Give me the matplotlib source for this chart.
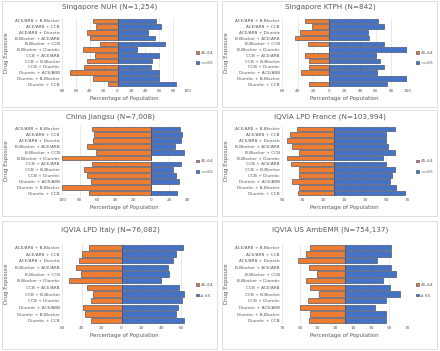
import matplotlib
matplotlib.use("Agg")
import matplotlib.pyplot as plt
from matplotlib.patches import Rectangle
from matplotlib.ticker import FuncFormatter

# =========================
# Data
# =========================

drugs = [
    "ACE/ARB + B-Blocker",
    "ACE/ARB + CCB",
    "ACE/ARB + Diuretic",
    "B-Blocker + ACE/ARB",
    "B-Blocker + CCB",
    "B-Blocker + Diuretic",
    "CCB + ACE/ARB",
    "CCB + B-Blocker",
    "CCB + Diuretic",
    "Diuretic + ACE/ARB",
    "Diuretic + B-Blocker",
    "Diuretic + CCB",
]

titles = [
    "Singapore NUH (N=1,254)",
    "Singapore KTPH (N=842)",
    "China Jiangsu (N=7,008)",
    "IQVIA LPD France (N=103,994)",
    "IQVIA LPD Italy (N=76,082)",
    "IQVIA US AmbEMR (N=754,137)",
]

nuh_young = [36, 31, 44, 40, 26, 50, 33, 44, 48, 69, 36, 14]
nuh_old = [56, 62, 44, 54, 68, 28, 59, 50, 48, 60, 60, 84]

ktph_young = [31, 22, 37, 43, 27, 0, 31, 25, 26, 36, 0, 25]
ktph_old = [63, 70, 50, 51, 70, 100, 60, 65, 70, 62, 100, 75]

china_young = [66, 64, 65, 72, 62, 100, 66, 75, 72, 67, 100, 70]
china_old = [32, 34, 33, 26, 37, 0, 33, 24, 28, 31, 0, 29]

france_young = [36, 42, 45, 40, 34, 45, 41, 34, 34, 40, 34, 35]
france_old = [58, 50, 50, 52, 58, 47, 50, 58, 56, 54, 59, 68]

italy_young = [33, 40, 43, 46, 41, 53, 35, 29, 31, 39, 37, 31]
italy_old = [62, 55, 52, 47, 48, 40, 58, 63, 61, 57, 55, 63]

us_young = [39, 43, 52, 40, 31, 43, 39, 29, 41, 50, 39, 40]
us_old = [52, 52, 36, 52, 58, 43, 51, 62, 47, 34, 46, 46]

young_series = [nuh_young, ktph_young, china_young, france_young, italy_young, us_young]
old_series = [nuh_old, ktph_old, china_old, france_old, italy_old, us_old]

x_ticks = [
    [-80, -60, -40, -20, 0, 20, 40, 60, 80, 100],
    [-60, -40, -20, 0, 20, 40, 60, 80, 100],
    [-100, -80, -60, -40, -20, 0, 20, 40],
    [-50, -30, -10, 10, 30, 50, 70],
    [-60, -40, -20, 0, 20, 40, 60],
    [-70, -50, -30, -10, 10, 30, 50, 70],
]
x_limits = [(-80, 100), (-60, 100), (-100, 40), (-50, 70), (-60, 66), (-70, 70)]

young_label = "45-64"
old_labels = [">=65", ">=65", ">=65", ">=65", "\u2265 65", "\u2265 65"]

# =========================
# Layout (pixels)
# =========================

W, H = 440, 351
ORANGE = "#ED7D31"
BLUE = "#4472C4"
EDGE = "#2F3E5C"
TXT = "#595959"

fig = plt.figure(figsize=(W / 100, H / 100), dpi=100)
fig.patch.set_facecolor("white")

panel_rows = [(1, 107), (110, 216), (221, 349)]
axes_rows = [(18, 87), (126, 196), (244, 324)]
title_y = [7, 117, 230]


def fx(px):
    return px / W


def fy(py):
    return 1 - py / H


for i in range(6):
    col, row = i % 2, i // 2
    x0 = col * 220

    # panel border
    p_top, p_bot = panel_rows[row]
    fig.patches.append(Rectangle((fx(x0 + 2), fy(p_bot)), fx(215), (p_bot - p_top) / H,
                                 transform=fig.transFigure, fill=False,
                                 edgecolor="#D9D9D9", linewidth=0.6))
    fig.text(fx(x0 + 110), fy(title_y[row]), titles[i], ha="center", va="center",
             fontsize=5.2, color=TXT)

    a_top, a_bot = axes_rows[row]
    ax = fig.add_axes([fx(x0 + 62), fy(a_bot), fx(125), (a_bot - a_top) / H])

    ypos = list(range(len(drugs)))
    neg = [-v for v in young_series[i]]
    ax.barh(ypos, neg, height=0.82, color=ORANGE, edgecolor=EDGE, linewidth=0.4,
            label=young_label, zorder=3)
    ax.barh(ypos, old_series[i], height=0.82, color=BLUE, edgecolor=EDGE, linewidth=0.4,
            label=old_labels[i], zorder=3)

    ax.set_yticks(ypos)
    ax.set_yticklabels(drugs)
    ax.set_ylim(len(drugs) - 0.5, -0.5)
    ax.set_xlim(*x_limits[i])
    ax.set_xticks(x_ticks[i])
    ax.xaxis.set_major_formatter(FuncFormatter(lambda v, p: f"{abs(int(v))}"))
    ax.tick_params(axis="both", length=0, labelsize=3.1, labelcolor=TXT, pad=1.5)
    ax.grid(axis="x", color="#D9D9D9", linewidth=0.4, zorder=0)
    for s in ax.spines.values():
        s.set_visible(False)

    ax.set_xlabel("Percentage of Population", fontsize=4, color=TXT, labelpad=2)
    ax.set_ylabel("Drug Exposure", fontsize=4, color=TXT)
    ax.yaxis.set_label_coords(-0.42, 0.5)

    ax.legend(loc="center left", bbox_to_anchor=(1.04, 0.42), frameon=False,
              fontsize=3.2, handlelength=0.6, handleheight=0.6, handletextpad=0.4,
              labelspacing=1.4, labelcolor=TXT)

fig.savefig("out.png", dpi=100, facecolor="white")
